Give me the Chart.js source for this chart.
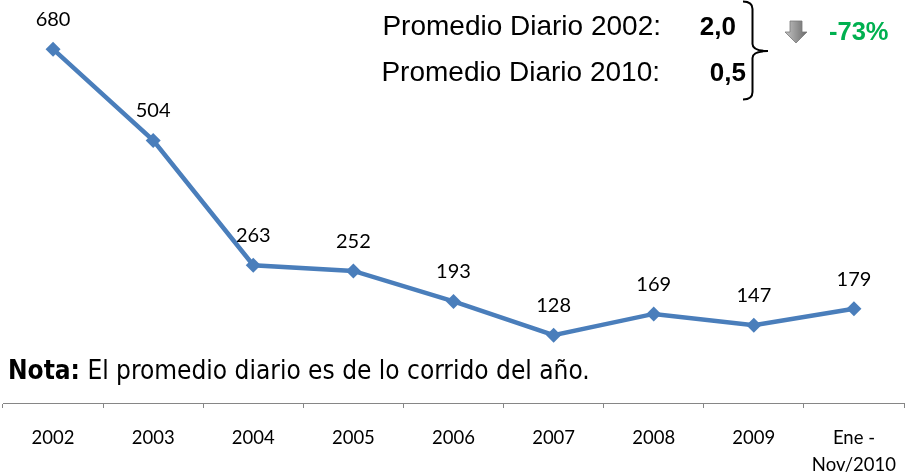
<!DOCTYPE html>
<html>
<head>
<meta charset="utf-8">
<script src="https://cdn.jsdelivr.net/npm/chart.js@4/dist/chart.umd.min.js"></script>
<style>
  body { margin: 0; background: #fff; }
  #wrap { position: relative; width: 905px; height: 476px; }
  #overlay { position: absolute; left: 0; top: 0; pointer-events: none; }
</style>
</head>
<body>
<div id="wrap">
  <canvas id="trendChart"></canvas>
  <svg id="overlay" width="905" height="476"></svg>
</div>
<script>
// =====================================
// DATA
// =====================================
const years = ["2002", "2003", "2004", "2005", "2006", "2007", "2008", "2009", ["Ene -", "Nov/2010"]];
const casos = [680, 504, 263, 252, 193, 128, 169, 147, 179];

const promedioLabels = ["Promedio Diario 2002:", "Promedio Diario 2010:"];
const promedioValues = ["2,0", "0,5"];
const variacion = "-73%";
const notaTitle = "Nota:";
const notaText = " El promedio diario es de lo corrido del año.";

const LINE_COLOR = "#4A7EBB";
const AXIS_COLOR = "#868686";

// =====================================
// DATA LABELS ABOVE POINTS
// =====================================
const pointLabels = {
  id: "pointLabels",
  afterDatasetsDraw(chart) {
    const ctx = chart.ctx;
    const meta = chart.getDatasetMeta(0);
    ctx.save();
    ctx.font = "20px Lato";
    ctx.fillStyle = "#000";
    ctx.textAlign = "center";
    ctx.textBaseline = "alphabetic";
    meta.data.forEach((pt, i) => {
      ctx.fillText(String(casos[i]), pt.x, pt.y - 23);
    });
    ctx.restore();
  }
};

// =====================================
// CHART
// =====================================
const chartInstance = new Chart(document.getElementById("trendChart"), {
  type: "line",
  data: {
    labels: years,
    datasets: [{
      data: casos,
      borderColor: LINE_COLOR,
      backgroundColor: LINE_COLOR,
      borderWidth: 4.5,
      tension: 0,
      pointStyle: "rectRot",
      pointRadius: 7.5,
      pointBorderWidth: 0,
      pointBackgroundColor: LINE_COLOR,
      clip: false
    }]
  },
  options: {
    responsive: true,
    maintainAspectRatio: false,
    animation: false,
    layout: { autoPadding: false, padding: { left: 3, right: 1, top: 0, bottom: 0 } },
    plugins: {
      legend: { display: false },
      tooltip: { enabled: false }
    },
    scales: {
      y: { display: false, min: -3, max: 775 },
      x: {
        offset: true,
        grid: {
          offset: true,
          drawOnChartArea: false,
          drawTicks: true,
          tickLength: 5,
          color: AXIS_COLOR
        },
        border: { color: AXIS_COLOR, width: 1 },
        ticks: {
          color: "#000",
          padding: 17,
          maxRotation: 0,
          autoSkip: false,
          font: { family: "Lato", size: 18.5, lineHeight: 1.46 }
        },
        afterFit: (scale) => {
          scale.height = 73;
          scale.paddingLeft = 0;
          scale.paddingRight = 0;
        }
      }
    }
  },
  plugins: [pointLabels]
});

// =====================================
// ANNOTATIONS (SVG TEXT)
// =====================================
const svgNS = "http://www.w3.org/2000/svg";
const overlay = document.getElementById("overlay");

function addText(str, x, y, attrs) {
  const t = document.createElementNS(svgNS, "text");
  t.setAttribute("x", x);
  t.setAttribute("y", y);
  Object.keys(attrs).forEach(k => t.setAttribute(k, attrs[k]));
  t.textContent = str;
  overlay.appendChild(t);
  return t;
}

function addPath(d, attrs) {
  const p = document.createElementNS(svgNS, "path");
  p.setAttribute("d", d);
  Object.keys(attrs).forEach(k => p.setAttribute(k, attrs[k]));
  overlay.appendChild(p);
}

const arial = "Liberation Sans, Arial, sans-serif";
addText(promedioLabels[0], 661, 35, { "font-family": arial, "font-size": 28, "text-anchor": "end" });
addText(promedioLabels[1], 660, 81, { "font-family": arial, "font-size": 28, "text-anchor": "end" });
addText(promedioValues[0], 736, 35, { "font-family": arial, "font-size": 26, "font-weight": "bold", "text-anchor": "end" });
addText(promedioValues[1], 746, 81, { "font-family": arial, "font-size": 26, "font-weight": "bold", "text-anchor": "end" });
addText(variacion, 829, 40, { "font-family": arial, "font-size": 25.5, "font-weight": "bold", "fill": "#00B050" });

// brace
addPath("M743,1.5 Q752.5,1.5 752.5,9 L752.5,44 Q752.5,51 768,51 Q752.5,51 752.5,58 L752.5,92 Q752.5,99.5 743,99.5",
  { fill: "none", stroke: "#000", "stroke-width": 2 });

// down arrow
const defs = document.createElementNS(svgNS, "defs");
defs.innerHTML = '<linearGradient id="arrowGrad" x1="0" y1="0" x2="1" y2="0">' +
  '<stop offset="0" stop-color="#c4c4c4"/><stop offset="1" stop-color="#6a6a6a"/></linearGradient>';
overlay.appendChild(defs);
addPath("M790,21 L802,21 L802,32 L807,32 L796,43 L785,32 L790,32 Z",
  { fill: "url(#arrowGrad)", stroke: "#7a7a7a", "stroke-width": 0.8 });

// nota
const nota = addText("", 8, 379, { "font-family": "DejaVu Sans Condensed, DejaVu Sans, sans-serif", "font-size": 26 });
const notaB = document.createElementNS(svgNS, "tspan");
notaB.setAttribute("font-weight", "bold");
notaB.textContent = notaTitle;
const notaR = document.createElementNS(svgNS, "tspan");
notaR.textContent = notaText;
nota.setAttribute("style", "white-space: pre");
nota.appendChild(notaB);
nota.appendChild(notaR);
</script>
</body>
</html>
